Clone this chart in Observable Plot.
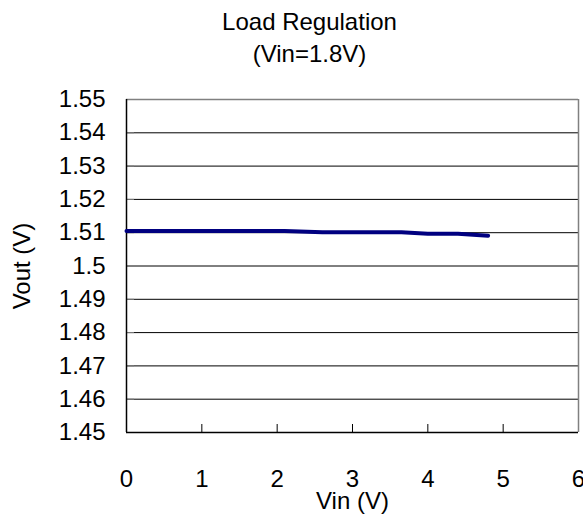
<!DOCTYPE html>
<html>
<head>
<meta charset="utf-8">
<script src="https://cdn.jsdelivr.net/npm/d3@7"></script>
<script src="https://cdn.jsdelivr.net/npm/@observablehq/plot@0.6"></script>
<style>
  html, body { margin: 0; padding: 0; background: #fff; }
  svg { display: block; }
</style>
</head>
<body>
<div id="chart"></div>
<script>
const title = "Load Regulation";
const subtitle = "(Vin=1.8V)";
const xLabel = "Vin (V)";
const yLabel = "Vout (V)";

const vin  = [0, 0.5, 1, 1.5, 2, 2.1, 2.6, 3, 3.5, 3.65, 4, 4.4, 4.8];
const vout = [1.5105, 1.5105, 1.5105, 1.5105, 1.5105, 1.5105, 1.5101, 1.5101, 1.5101, 1.5101, 1.5097, 1.5097, 1.5091];

const xTicks = [0, 1, 2, 3, 4, 5, 6];
const yTicks = [1.45, 1.46, 1.47, 1.48, 1.49, 1.50, 1.51, 1.52, 1.53, 1.54, 1.55];
const yTickLabels = ["1.45", "1.46", "1.47", "1.48", "1.49", "1.5", "1.51", "1.52", "1.53", "1.54", "1.55"];

const data = vin.map((x, i) => ({x, y: vout[i]}));
const font = "Liberation Sans, Arial, sans-serif";

const chart = Plot.plot({
  width: 583,
  height: 515,
  marginLeft: 126,
  marginRight: 5,
  marginTop: 99,
  marginBottom: 83,
  style: {fontFamily: font, fontSize: "24px", color: "#000", background: "#fff"},
  x: {domain: [0, 6]},
  y: {domain: [1.45, 1.55]},
  marks: [
    Plot.gridY(yTicks, {stroke: "#000", strokeOpacity: 1, strokeWidth: 1}),
    Plot.axisX(xTicks, {tickSize: 8, dy: -8, tickFormat: () => "", stroke: "#000", label: null}),
    Plot.axisY(yTicks, {tickSize: 8, dx: 8, tickFormat: () => "", stroke: "#808080", label: null}),
    Plot.axisX(xTicks, {tickSize: 0, tickPadding: 37, fontSize: 24, label: xLabel, labelAnchor: "center", labelArrow: "none", labelOffset: 76, tickFormat: d => String(d)}),
    Plot.axisY(yTicks, {tickSize: 0, tickPadding: 21, fontSize: 24, label: yLabel, labelAnchor: "center", labelOffset: 114, labelArrow: "none", tickFormat: (d, i) => yTickLabels[i]}),
    Plot.ruleY([1.55], {stroke: "#808080", strokeWidth: 1.5}),
    Plot.ruleX([6], {stroke: "#808080", strokeWidth: 1.5}),
    Plot.ruleX([0], {stroke: "#000", strokeWidth: 1.5}),
    Plot.ruleY([1.45], {stroke: "#000", strokeWidth: 1.5}),
    Plot.line(data, {x: "x", y: "y", stroke: "#000080", strokeWidth: 4, curve: "linear"}),
    Plot.text([title], {frameAnchor: "top", lineAnchor: "middle", dx: -43, dy: -77, fontSize: 24, fill: "#000"}),
    Plot.text([subtitle], {frameAnchor: "top", lineAnchor: "middle", dx: -43, dy: -45, fontSize: 24, fill: "#000"})
  ]
});
document.getElementById("chart").appendChild(chart);
</script>
</body>
</html>
